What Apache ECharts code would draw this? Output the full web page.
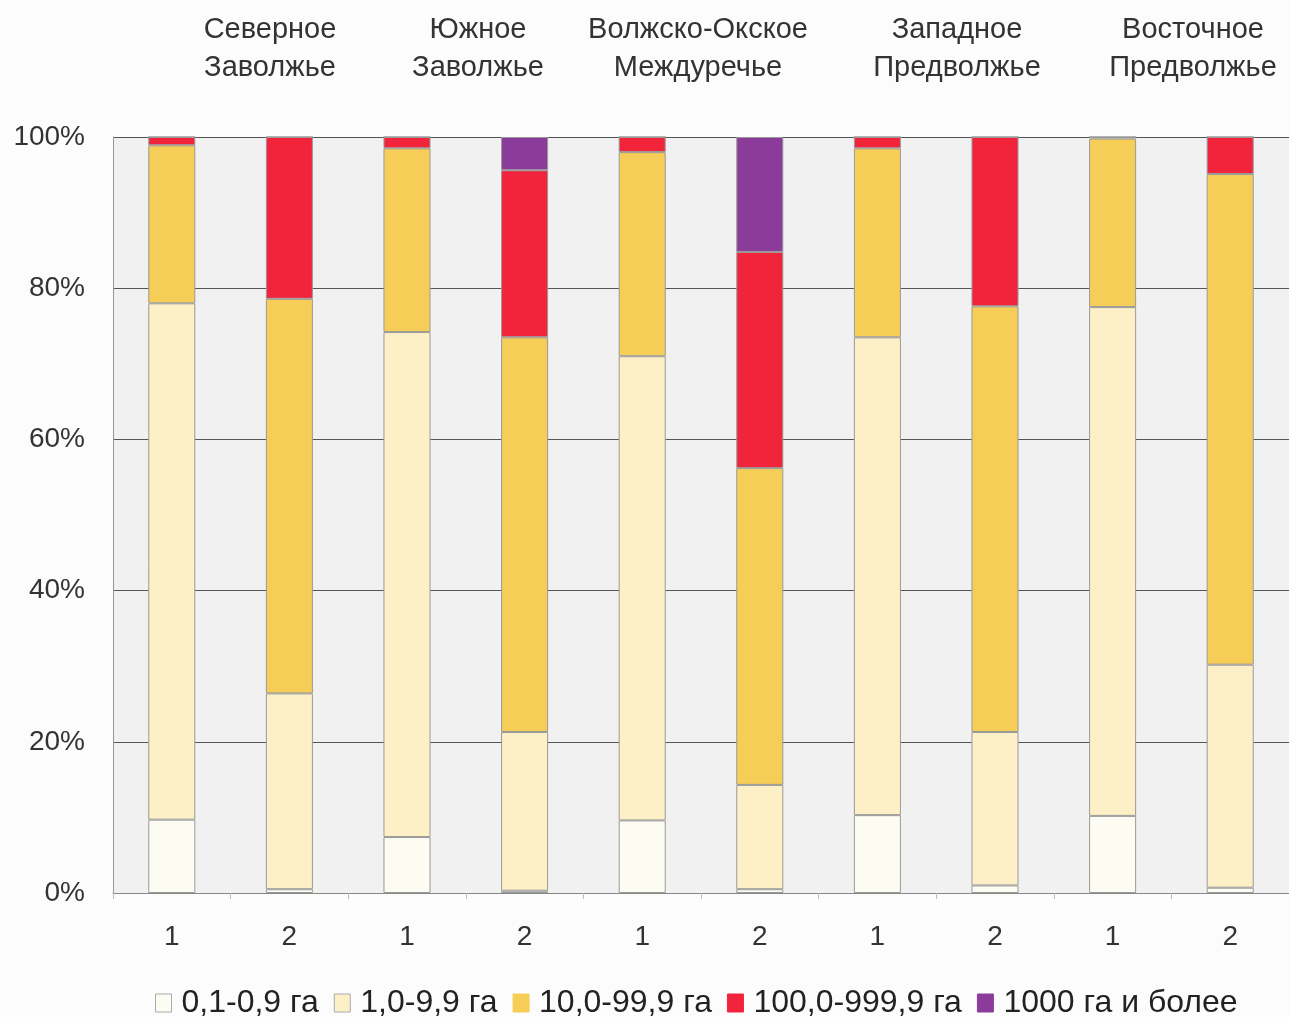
<!DOCTYPE html>
<html>
<head>
<meta charset="utf-8">
<script src="https://cdn.jsdelivr.net/npm/echarts@6/dist/echarts.min.js"></script>
<style>
html,body{margin:0;padding:0;background:#fcfcfc;}
#chart{width:1289px;height:1017px;}
</style>
</head>
<body>
<div id="chart"></div>
<script>
const categories = ['1','2','1','2','1','2','1','2','1','2'];
const regions = ['Северное\nЗаволжье','Южное\nЗаволжье','Волжско-Окское\nМеждуречье','Западное\nПредволжье','Восточное\nПредволжье'];
const regionLabelX = [270, 478, 698, 957, 1193];
const seriesNames = ['0,1-0,9 га','1,0-9,9 га','10,0-99,9 га','100,0-999,9 га','1000 га и более'];
const s01_09   = [9.7, 0.5, 7.4, 0.3, 9.6, 0.5, 10.3, 1.0, 10.2, 0.7];
const s1_99    = [68.3, 25.9, 66.8, 21.0, 61.4, 13.8, 63.2, 20.3, 67.3, 29.5];
const s10_999  = [20.9, 52.2, 24.3, 52.2, 27.0, 41.9, 25.0, 56.3, 22.3, 64.9];
const s100_999 = [1.1, 21.4, 1.5, 22.1, 2.0, 28.6, 1.5, 22.4, 0.2, 4.9];
const s1000    = [0, 0, 0, 4.4, 0, 15.2, 0, 0, 0, 0];
const yTicks = [0, 20, 40, 60, 80, 100];

const colors = ['#fdfcf2', '#fdf0c6', '#f6cd57', '#f2243c', '#8b3c9b'];
const data = [s01_09, s1_99, s10_999, s100_999, s1000];

const chart = echarts.init(document.getElementById('chart'));
const font = 'Liberation Sans, Arial, sans-serif';
chart.setOption({
  animation: false,
  backgroundColor: '#fcfcfc',
  color: colors,
  textStyle: { fontFamily: font },
  grid: { left: 113, top: 137, height: 756, width: 1183, show: true, backgroundColor: '#f1f1f1', borderWidth: 0 },
  xAxis: {
    type: 'category',
    data: categories,
    axisLine: { lineStyle: { color: '#888', width: 1 } },
    axisTick: { show: true, alignWithLabel: false, lineStyle: { color: '#bbb' }, length: 6 },
    axisLabel: { fontSize: 28, color: '#333', margin: 30, fontFamily: font }
  },
  yAxis: {
    type: 'value',
    min: yTicks[0], max: yTicks[yTicks.length - 1], interval: 20,
    axisLine: { show: true, lineStyle: { color: '#999' } },
    axisTick: { show: false },
    axisLabel: { fontSize: 28, color: '#333', margin: 28, formatter: '{value}%', fontFamily: font },
    splitLine: { lineStyle: { color: '#555', width: 1 } }
  },
  legend: {
    left: 150, top: 982,
    itemWidth: 16, itemHeight: 18, itemGap: 15,
    textStyle: { fontSize: 32, color: '#222', fontFamily: font, padding: [0, 0, 0, 5] },
    data: seriesNames.map((n, i) => ({ name: n, icon: 'rect', itemStyle: { color: colors[i], borderColor: i < 2 ? '#aaa' : colors[i], borderWidth: 1 } }))
  },
  graphic: regions.map((r, i) => ({
    type: 'text',
    x: regionLabelX[i], y: 11,
    style: { text: r, fontSize: 29, fill: '#333', textAlign: 'center', lineHeight: 38, fontFamily: font }
  })),
  series: seriesNames.map((n, i) => ({
    name: n,
    type: 'bar',
    stack: 'total',
    barWidth: '40%',
    data: data[i],
    itemStyle: { color: colors[i], borderColor: '#999', borderWidth: 1 }
  }))
});
</script>
</body>
</html>
